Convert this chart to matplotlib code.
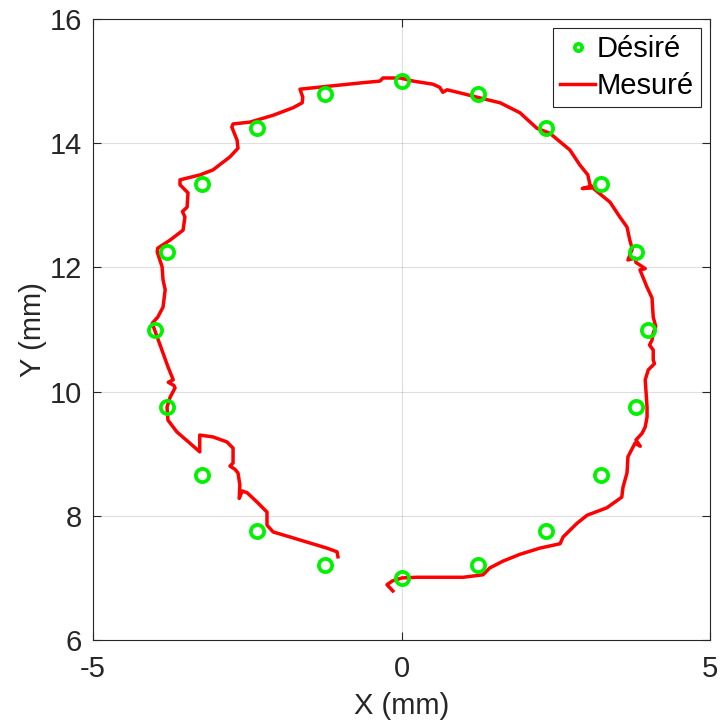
import matplotlib
matplotlib.use("Agg")
import matplotlib.pyplot as plt

plt.rcParams['font.family'] = ['Liberation Sans', 'DejaVu Sans']
plt.rcParams['axes.unicode_minus'] = False

# Desired trajectory points (mm)
desired_x = [0.00, 1.24, 2.35, 3.24, 3.80, 4.00, 3.80, 3.24, 2.35, 1.24,
             0.00, -1.24, -2.35, -3.24, -3.80, -4.00, -3.80, -3.24, -2.35, -1.24]
desired_y = [15.00, 14.80, 14.24, 13.35, 12.24, 11.00, 9.76, 8.65, 7.76, 7.20,
             7.00, 7.20, 7.76, 8.65, 9.76, 11.00, 12.24, 13.35, 14.24, 14.80]

# Measured trajectory (mm)
measured_x = [-0.14, -0.235, -0.15, 0.01, 0.25, 0.62, 1.00, 1.32, 1.43, 1.645,
              1.92, 2.245, 2.57, 2.62, 2.845, 3.01, 3.33, 3.57, 3.59, 3.655,
              3.67, 3.785, 3.87, 3.80, 3.90, 3.95, 3.98, 3.98, 3.96, 3.95,
              4.00, 4.10, 4.08, 4.08, 4.02, 4.06, 4.08, 4.12, 4.08, 4.06,
              3.98, 3.865, 3.95, 3.80, 3.785, 3.67, 3.74, 3.70, 3.655, 3.54,
              3.38, 3.10, 2.93, 3.08, 3.055, 3.02, 2.89, 2.73, 2.405, 2.195,
              1.92, 1.60, 1.27, 0.95, 0.74, 0.67, 0.62, 0.51, 0.19, -0.02,
              -0.30, -0.35, -0.67, -1.16, -1.645, -1.60, -1.61, -1.76, -2.08, -2.455,
              -2.73, -2.75, -2.665, -2.65, -2.78, -3.055, -3.265, -3.59, -3.59, -3.46,
              -3.475, -3.55, -3.51, -3.54, -3.75, -3.95, -3.96, -3.88, -3.865, -3.83,
              -3.865, -3.95, -4.04, -3.96, -3.865, -3.785, -3.70, -3.78, -3.69, -3.67,
              -3.75, -3.80, -3.785, -3.64, -3.43, -3.27, -3.27, -3.055, -2.83, -2.73,
              -2.73, -2.78, -2.70, -2.65, -2.62, -2.63, -2.58, -2.50, -2.34, -2.18,
              -2.18, -2.08, -1.81, -1.48, -1.21, -1.045, -1.03]
measured_y = [6.79, 6.89, 6.95, 7.00, 7.01, 7.01, 7.01, 7.05, 7.16, 7.27,
              7.38, 7.48, 7.55, 7.66, 7.88, 8.01, 8.13, 8.30, 8.46, 8.69,
              8.95, 9.17, 9.12, 9.22, 9.33, 9.43, 9.59, 9.75, 10.03, 10.19,
              10.35, 10.45, 10.51, 10.67, 10.75, 10.83, 10.94, 11.05, 11.20, 11.51,
              11.68, 11.96, 11.98, 12.08, 12.15, 12.12, 12.30, 12.44, 12.65, 12.81,
              13.05, 13.28, 13.27, 13.31, 13.33, 13.49, 13.65, 13.89, 14.16, 14.24,
              14.49, 14.65, 14.73, 14.81, 14.86, 14.82, 14.90, 14.95, 15.00, 15.05,
              15.05, 15.00, 14.97, 14.92, 14.87, 14.74, 14.65, 14.57, 14.45, 14.34,
              14.31, 14.26, 14.05, 13.92, 13.78, 13.57, 13.49, 13.41, 13.33, 13.20,
              12.97, 12.90, 12.81, 12.60, 12.44, 12.31, 12.25, 12.01, 11.80, 11.64,
              11.36, 11.20, 11.10, 10.88, 10.62, 10.40, 10.19, 10.15, 10.10, 10.06,
              9.91, 9.75, 9.54, 9.35, 9.17, 9.03, 9.30, 9.27, 9.19, 9.09,
              8.85, 8.80, 8.75, 8.69, 8.50, 8.28, 8.40, 8.37, 8.22, 8.06,
              7.85, 7.74, 7.66, 7.56, 7.48, 7.42, 7.34]

x_ticks = [-5, 0, 5]
y_ticks = [6, 8, 10, 12, 14, 16]

fig = plt.figure(figsize=(7.21, 7.27), dpi=100)
ax = fig.add_axes([93/721, 87/727, 617/721, 621/727])

ax.plot(desired_x, desired_y, linestyle='none', marker='o', markersize=9.5,
        markerfacecolor='none', markeredgecolor=(0, 0.95, 0), markeredgewidth=2.7,
        label='Désiré', zorder=3)
ax.plot(measured_x, measured_y, color=(1, 0, 0), linewidth=2.5,
        label='Mesuré', zorder=2)

ax.set_xlim(-5, 5)
ax.set_ylim(6, 16)
ax.set_xticks(x_ticks)
ax.set_yticks(y_ticks)
ax.grid(True, color=(0.15, 0.15, 0.15), alpha=0.15, linewidth=0.8)
ax.set_axisbelow(True)

dark = (0.15, 0.15, 0.15)
for s in ax.spines.values():
    s.set_color(dark)
    s.set_linewidth(0.8)
ax.tick_params(direction='in', length=6, width=0.8, colors=dark, labelsize=21,
               top=True, right=True, labelcolor=dark)
ax.tick_params(axis='x', pad=11)
ax.tick_params(axis='y', pad=8)
ax.set_xlabel('X (mm)', fontsize=21, color=dark, labelpad=6)
ax.set_ylabel('Y (mm)', fontsize=21, color=dark, labelpad=2)

leg = ax.legend(loc='upper right', fontsize=21, frameon=True, fancybox=False,
                edgecolor=dark, framealpha=1, borderpad=0.25, labelspacing=0.3,
                handlelength=1.2, handletextpad=0.05, borderaxespad=0.3,
                markerscale=0.55)
leg.get_frame().set_linewidth(0.8)

fig.savefig('out.png', dpi=100)
